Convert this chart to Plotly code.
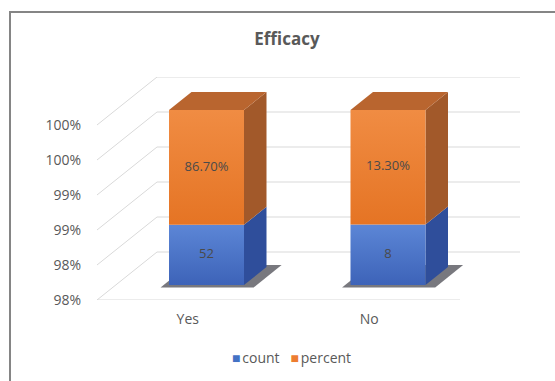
import plotly.graph_objects as go

# ---- data ----
categories = ["Yes", "No"]
count = [52, 8]
percent = [0.867, 0.133]
count_labels = ["52", "8"]
percent_labels = ["86.70%", "13.30%"]
tick_vals = [97.5, 98.0, 98.5, 99.0, 99.5, 100.0]
tick_text = ["98%", "98%", "99%", "99%", "100%", "100%"]
axis_min, axis_max = 97.5, 100.0
series_names = ["count", "percent"]
series_colors = ["#4472c4", "#ed7d31"]

# ---- pseudo-3D geometry (in axis units) ----
DX, DY = 0.3306, 0.6857          # full depth offset of the wall
F0, F1 = 0.3125, 0.6875          # bar depth span (fraction of full depth)
HALF_W = 0.2066                  # half bar width (category units)
n = len(categories)

FONT = "Open Sans, sans-serif"
GRID = "#d9d9d9"
BLUE_FRONT = [[0, "#3d63b8"], [1, "#5c86d6"]]
BLUE_SIDE, BLUE_TOP = "#2f4e9b", "#4a6fc0"
ORANGE_FRONT = [[0, "#e57424"], [1, "#f08c43"]]
ORANGE_SIDE, ORANGE_TOP = "#a2592a", "#b9652f"

fig = go.Figure()

# grid: back wall lines + left wall diagonals + floor front edge
gx, gy = [], []
for v in tick_vals:
    gx += [DX, n + DX, None, 0, DX, None]
    gy += [v + DY, v + DY, None, v, v + DY, None]
gx += [0, n, None]
gy += [axis_min, axis_min, None]
fig.add_trace(go.Scatter(x=gx, y=gy, mode="lines", line=dict(color=GRID, width=1),
                         hoverinfo="skip", showlegend=False))


def poly(xs, ys, color=None, grad=None):
    kw = dict(x=xs + [xs[0]], y=ys + [ys[0]], mode="lines", fill="toself",
              line=dict(width=0), hoverinfo="skip", showlegend=False)
    if grad is not None:
        kw["fillgradient"] = dict(type="vertical", colorscale=grad)
        kw["fillcolor"] = grad[0][1]
    else:
        kw["fillcolor"] = color
    fig.add_trace(go.Scatter(**kw))


for i in range(n):
    cx = i + 0.5
    x0, x1 = cx - HALF_W, cx + HALF_W
    share = count[i] / (count[i] + percent[i]) * 100
    segs = [(axis_min, share, BLUE_FRONT, BLUE_SIDE, BLUE_TOP, count_labels[i]),
            (share, axis_max, ORANGE_FRONT, ORANGE_SIDE, ORANGE_TOP, percent_labels[i])]

    # base shadow on the floor
    s0, s1 = F0 - 0.05, F1 + 0.04
    poly([x0 - 0.03 + s0 * DX, x1 + 0.07 + s0 * DX, x1 + 0.07 + s1 * DX, x0 - 0.03 + s1 * DX],
         [axis_min + s0 * DY, axis_min + s0 * DY, axis_min + s1 * DY, axis_min + s1 * DY],
         color="rgba(30,30,40,0.6)")

    for k, (lo, hi, front, side, top, lab) in enumerate(segs):
        # side face
        poly([x1 + F0 * DX, x1 + F1 * DX, x1 + F1 * DX, x1 + F0 * DX],
             [lo + F0 * DY, lo + F1 * DY, hi + F1 * DY, hi + F0 * DY], color=side)
        # top face (only top segment)
        if k == len(segs) - 1:
            poly([x0 + F0 * DX, x1 + F0 * DX, x1 + F1 * DX, x0 + F1 * DX],
                 [hi + F0 * DY, hi + F0 * DY, hi + F1 * DY, hi + F1 * DY], color=top)
        # front face
        poly([x0 + F0 * DX, x1 + F0 * DX, x1 + F0 * DX, x0 + F0 * DX],
             [lo + F0 * DY, lo + F0 * DY, hi + F0 * DY, hi + F0 * DY], grad=front)
        # data label
        fig.add_trace(go.Scatter(x=[cx + F0 * DX], y=[(lo + hi) / 2 + F0 * DY], mode="text",
                                 text=[lab], textfont=dict(family=FONT, size=13, color="#4a4a4a"),
                                 hoverinfo="skip", showlegend=False))

L, R, T, B = 97, 35, 77, 81
W, H = 555, 381
pw, ph = W - L - R, H - T - B

# legend (as text with coloured square keys)
legend_text = "&nbsp;&nbsp;&nbsp;".join(
    f"<span style='color:{c};font-size:14px'>■</span><span style='font-size:7px'>&nbsp;</span>{nm}"
    for nm, c in zip(series_names, series_colors))

fig.update_layout(
    width=W, height=H,
    margin=dict(l=L, r=R, t=T, b=B),
    paper_bgcolor="white", plot_bgcolor="white",
    font=dict(family=FONT, size=14, color="#595959"),
    title=dict(text="<b>Efficacy</b>", x=287 / W, xanchor="center",
               y=1 - 39 / H, yanchor="middle",
               font=dict(family=FONT, size=17, color="#595959")),
    xaxis=dict(range=[0, n + DX], tickvals=[i + 0.5 for i in range(n)], ticktext=categories,
               showgrid=False, zeroline=False, showline=False, ticks="",
               ticklabelstandoff=9, tickfont=dict(size=14, color="#595959"),
               fixedrange=True),
    yaxis=dict(range=[axis_min, axis_max + DY], tickvals=tick_vals, ticktext=tick_text,
               showgrid=False, zeroline=False, showline=False, ticks="",
               ticklabelstandoff=15, tickfont=dict(size=14, color="#595959"),
               fixedrange=True),
    showlegend=False,
    annotations=[dict(text=legend_text, xref="paper", yref="paper",
                      x=(291 - L) / pw, y=(ph + T - 357) / ph,
                      xanchor="center", yanchor="middle", showarrow=False,
                      font=dict(family=FONT, size=14, color="#595959"))],
    shapes=[dict(type="rect", xref="paper", yref="paper",
                 x0=(10 - L) / pw, x1=(562 - L) / pw,
                 y0=(T + ph - 392) / ph, y1=(T + ph - 12) / ph,
                 line=dict(color="#858585", width=2), layer="below")],
)

fig.write_html("out.html")
